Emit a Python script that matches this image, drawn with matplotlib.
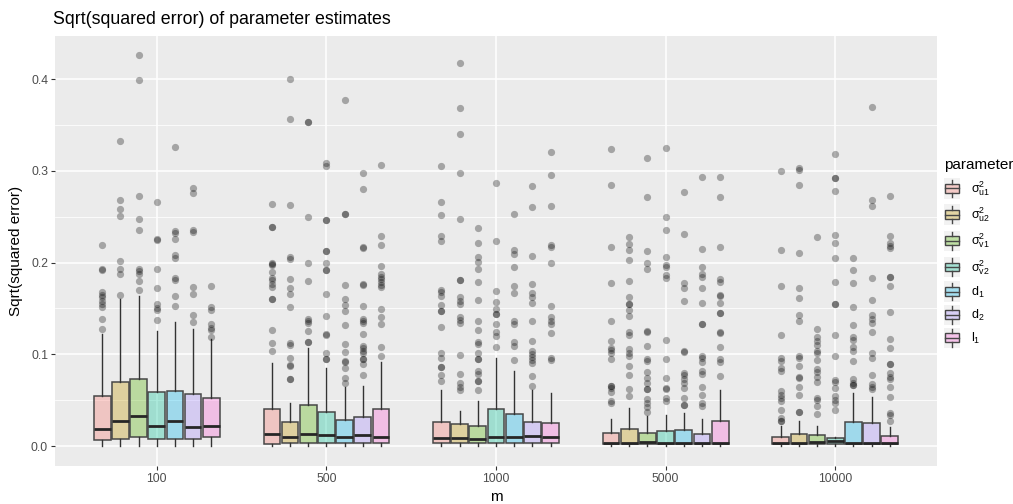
import numpy as np
import matplotlib
matplotlib.use("Agg")
import matplotlib.pyplot as plt
from matplotlib.legend_handler import HandlerBase
from matplotlib.patches import Rectangle, Patch
from matplotlib.lines import Line2D
from matplotlib.colors import to_rgba

plt.rcParams['font.family'] = ['Liberation Sans', 'DejaVu Sans']
plt.rcParams['mathtext.fontset'] = 'custom'
plt.rcParams['mathtext.rm'] = 'Liberation Sans'

m_labels = ['100', '500', '1000', '5000', '10000']
param_labels = [r'$\mathregular{σ^2_{u1}}$', r'$\mathregular{σ^2_{u2}}$',
                r'$\mathregular{σ^2_{v1}}$', r'$\mathregular{σ^2_{v2}}$',
                r'$\mathregular{d_1}$', r'$\mathregular{d_2}$', r'$\mathregular{l_1}$']
colors = ['#F8766D', '#C49A00', '#53B400', '#00C094', '#00B6EB', '#A58AFF', '#FB61D7']

# box stats per m (rows) and parameter (cols)
q1 = [[0.0065, 0.0073, 0.0094, 0.0080, 0.0076, 0.0080, 0.0098],
      [0.0025, 0.0030, 0.0030, 0.0030, 0.0030, 0.0036, 0.0030],
      [0.0030, 0.0030, 0.0030, 0.0030, 0.0030, 0.0030, 0.0030],
      [0.0020, 0.0020, 0.0020, 0.0020, 0.0020, 0.0020, 0.0020],
      [0.0020, 0.0020, 0.0020, 0.0025, 0.0020, 0.0020, 0.0020]]
med = [[0.0190, 0.0276, 0.0330, 0.0214, 0.0270, 0.0203, 0.0218],
       [0.0127, 0.0098, 0.0127, 0.0124, 0.0102, 0.0116, 0.0098],
       [0.0084, 0.0087, 0.0080, 0.0094, 0.0094, 0.0105, 0.0102],
       [0.0036, 0.0030, 0.0040, 0.0033, 0.0033, 0.0036, 0.0033],
       [0.0030, 0.0036, 0.0044, 0.0054, 0.0030, 0.0033, 0.0036]]
q3 = [[0.0545, 0.0694, 0.0727, 0.0585, 0.0600, 0.0570, 0.0527],
      [0.0403, 0.0258, 0.0450, 0.0374, 0.0283, 0.0312, 0.0400],
      [0.0260, 0.0243, 0.0218, 0.0403, 0.0345, 0.0265, 0.0247],
      [0.0145, 0.0189, 0.0145, 0.0160, 0.0171, 0.0127, 0.0272],
      [0.0098, 0.0130, 0.0116, 0.0084, 0.0258, 0.0247, 0.0113]]
whis_lo = [[0.0005] * 7, [0.0003] * 7, [0.0003] * 7, [0.0002] * 7, [0.0002] * 7]
whis_hi = [[0.122, 0.160, 0.163, 0.125, 0.1355, 0.128, 0.117],
           [0.090, 0.047, 0.1064, 0.0846, 0.0647, 0.0654, 0.0919],
           [0.061, 0.038, 0.0494, 0.0955, 0.0817, 0.061, 0.058],
           [0.0294, 0.041, 0.0327, 0.0338, 0.0356, 0.029, 0.061],
           [0.0218, 0.0276, 0.0218, 0.010, 0.0574, 0.0538, 0.021]]

outliers = [
    [  # m = 100
        [0.219, 0.193, 0.192, 0.168, 0.165, 0.162, 0.158, 0.155, 0.152, 0.138, 0.1275],
        [0.332, 0.268, 0.258, 0.251, 0.2016, 0.1925, 0.1875, 0.1646],
        [0.4265, 0.399, 0.273, 0.248, 0.235, 0.193, 0.191, 0.187, 0.180, 0.170],
        [0.266, 0.2256, 0.2245, 0.193, 0.172, 0.155, 0.150, 0.148, 0.137],
        [0.3255, 0.234, 0.232, 0.2256, 0.208, 0.2045, 0.1827, 0.181, 0.164, 0.1526],
        [0.281, 0.276, 0.235, 0.233, 0.173, 0.166, 0.143, 0.135],
        [0.174, 0.152, 0.148, 0.133, 0.129, 0.126, 0.119],
    ],
    [  # m = 500
        [0.2637, 0.2386, 0.2386, 0.200, 0.198, 0.197, 0.1896, 0.1827, 0.181, 0.1765, 0.173,
         0.1605, 0.160, 0.126, 0.1126, 0.1035],
        [0.3996, 0.3567, 0.263, 0.2063, 0.2034, 0.1816, 0.1718, 0.1653, 0.151, 0.112, 0.110,
         0.0955, 0.0886, 0.0872, 0.073, 0.073],
        [0.3527, 0.3527, 0.250, 0.199, 0.180, 0.1387, 0.1366, 0.1337, 0.125, 0.1137, 0.113],
        [0.309, 0.305, 0.246, 0.246, 0.2129, 0.2129, 0.200, 0.1918, 0.1918, 0.1653, 0.142,
         0.122, 0.1213, 0.1017, 0.095, 0.095],
        [0.377, 0.2532, 0.2525, 0.1754, 0.1605, 0.1533, 0.147, 0.1319, 0.111, 0.1028, 0.0926,
         0.0915, 0.085, 0.0745, 0.069],
        [0.2975, 0.2804, 0.2165, 0.2154, 0.177, 0.1754, 0.1526, 0.139, 0.136, 0.1337, 0.122,
         0.109, 0.1064, 0.104, 0.1017, 0.0944, 0.0944, 0.089, 0.0774],
        [0.306, 0.229, 0.2187, 0.1965, 0.187, 0.1845, 0.1816, 0.179, 0.176, 0.173, 0.149,
         0.141, 0.133, 0.108, 0.098],
    ],
    [  # m = 1000
        [0.305, 0.266, 0.2517, 0.229, 0.223, 0.170, 0.1678, 0.1638, 0.1537, 0.1475, 0.1475,
         0.1297, 0.1017, 0.0955, 0.0864, 0.0864, 0.0774, 0.0708],
        [0.418, 0.3687, 0.3396, 0.2979, 0.2474, 0.1809, 0.1809, 0.1627, 0.1584, 0.1547, 0.141,
         0.1373, 0.1337, 0.0988, 0.079, 0.0683, 0.064, 0.061],
        [0.2376, 0.2216, 0.2063, 0.2005, 0.1925, 0.1784, 0.1595, 0.1366, 0.1264, 0.113, 0.111,
         0.101, 0.0944, 0.0944, 0.082, 0.079, 0.0712, 0.0712, 0.061],
        [0.287, 0.2234, 0.169, 0.157, 0.149, 0.1438, 0.1438, 0.133, 0.1246, 0.120, 0.108],
        [0.2528, 0.2136, 0.2089, 0.1947, 0.1744, 0.1664, 0.1366, 0.133, 0.1137, 0.109, 0.0937],
        [0.283, 0.261, 0.207, 0.1765, 0.1667, 0.1627, 0.1562, 0.1366, 0.1148, 0.1035, 0.1003,
         0.0973, 0.0937, 0.090, 0.0766, 0.0657],
        [0.320, 0.295, 0.262, 0.219, 0.217, 0.200, 0.1526, 0.141, 0.1366, 0.133, 0.1228,
         0.0955, 0.0937],
    ],
    [  # m = 5000
        [0.3237, 0.2848, 0.2172, 0.1773, 0.1362, 0.1144, 0.107, 0.1046, 0.1017, 0.0944, 0.0654,
         0.0654, 0.0628, 0.0592, 0.049, 0.0465],
        [0.228, 0.2198, 0.2136, 0.203, 0.180, 0.162, 0.1547, 0.1547, 0.148, 0.1417, 0.1242,
         0.121, 0.1053, 0.1017, 0.0984, 0.0872, 0.0774, 0.0617, 0.0548],
        [0.314, 0.272, 0.2129, 0.1998, 0.1929, 0.1253, 0.1239, 0.1093, 0.0944, 0.093, 0.081,
         0.0745, 0.069, 0.0617, 0.0617, 0.0508, 0.0472, 0.0429, 0.0374],
        [0.325, 0.2495, 0.236, 0.2056, 0.1976, 0.1954, 0.1863, 0.1827, 0.1155, 0.0948, 0.0745,
         0.0636, 0.0621, 0.0527, 0.0494],
        [0.2768, 0.2314, 0.1773, 0.1718, 0.1584, 0.1039, 0.1024, 0.0792, 0.0774, 0.0726, 0.0683,
         0.0628, 0.052, 0.0447, 0.0447],
        [0.2928, 0.2147, 0.1954, 0.1874, 0.1845, 0.1718, 0.1555, 0.133, 0.133, 0.098, 0.0955,
         0.0912, 0.082, 0.0785, 0.0647, 0.0556, 0.0465, 0.0436],
        [0.2928, 0.2717, 0.2165, 0.1816, 0.179, 0.1642, 0.1634, 0.1555, 0.1453, 0.1453, 0.1246,
         0.1228, 0.1075, 0.0944, 0.0919, 0.0763],
    ],
    [  # m = 10000
        [0.2997, 0.2136, 0.1744, 0.1206, 0.0955, 0.0926, 0.0846, 0.082, 0.060, 0.0556, 0.052,
         0.049, 0.0392, 0.0301, 0.0276, 0.0276],
        [0.3026, 0.3008, 0.2844, 0.2107, 0.1718, 0.161, 0.1428, 0.1362, 0.098, 0.0955, 0.0875,
         0.0748, 0.0737, 0.0639, 0.0556, 0.0367, 0.0367],
        [0.2274, 0.1275, 0.1184, 0.1148, 0.1101, 0.1035, 0.1017, 0.0937, 0.0839, 0.081, 0.0748,
         0.0694, 0.052, 0.0501, 0.0436, 0.0349],
        [0.3178, 0.2924, 0.2924, 0.2782, 0.230, 0.2209, 0.2052, 0.1791, 0.1547, 0.1547, 0.1206,
         0.098, 0.0719, 0.0701, 0.0628, 0.0545, 0.0501, 0.0472, 0.0392],
        [0.2045, 0.1918, 0.1773, 0.151, 0.1319, 0.1191, 0.1155, 0.1075, 0.1039, 0.0926, 0.073,
         0.0683, 0.0665, 0.0665],
        [0.3698, 0.268, 0.2615, 0.1834, 0.1591, 0.1428, 0.138, 0.1337, 0.1239, 0.1017, 0.0955,
         0.0774, 0.0676, 0.0639, 0.0617],
        [0.2728, 0.2292, 0.2216, 0.218, 0.2154, 0.1838, 0.1838, 0.1744, 0.1457, 0.1162, 0.1071,
         0.0894, 0.0894, 0.0792, 0.0756, 0.073, 0.0647, 0.0538, 0.0356, 0.0338, 0.0276],
    ],
]

alpha_fill = 0.32
edge_col = '#474747'
dodge = 0.75 / 7


class BoxKeyHandler(HandlerBase):
    def create_artists(self, legend, orig_handle, xdescent, ydescent, width, height,
                       fontsize, trans):
        x0, y0 = -xdescent, -ydescent
        bg = Rectangle((x0, y0 - 2), width, height + 4, facecolor='#F2F2F2',
                       edgecolor='none', transform=trans)
        bx = Rectangle((x0 + width * 0.08, y0 + height * 0.2), width * 0.84, height * 0.6,
                       facecolor=orig_handle.get_facecolor(), edgecolor=edge_col,
                       linewidth=1.0, transform=trans)
        cx = x0 + width / 2
        cy = y0 + height / 2
        md = Line2D([x0 + width * 0.08, x0 + width * 0.92], [cy, cy], color=edge_col,
                    linewidth=1.0, transform=trans)
        w1 = Line2D([cx, cx], [y0 - 1, y0 + height * 0.2], color=edge_col, linewidth=1.0,
                    transform=trans)
        w2 = Line2D([cx, cx], [y0 + height * 0.8, y0 + height + 1], color=edge_col,
                    linewidth=1.0, transform=trans)
        return [bg, bx, md, w1, w2]


fig = plt.figure(figsize=(10.13, 5.04), dpi=100)
ax = fig.add_axes([0.0543, 0.0754, 0.8707, 0.8532])
ax.set_facecolor('#EBEBEB')

for i in range(len(m_labels)):
    stats = []
    for j in range(7):
        stats.append(dict(med=med[i][j], q1=q1[i][j], q3=q3[i][j],
                          whislo=whis_lo[i][j], whishi=whis_hi[i][j],
                          fliers=outliers[i][j]))
    pos = [i + 1 + (j - 3) * dodge for j in range(7)]
    bp = ax.bxp(stats, positions=pos, widths=dodge * 0.92, patch_artist=True,
                showcaps=False, manage_ticks=False,
                boxprops=dict(edgecolor=edge_col, linewidth=1.1),
                whiskerprops=dict(color='#333333', linewidth=1.0),
                medianprops=dict(color='#262626', linewidth=2.0),
                flierprops=dict(marker='o', markerfacecolor=(0, 0, 0, 0.3),
                                markeredgewidth=0, markersize=5.2))
    for patch, c in zip(bp['boxes'], colors):
        patch.set_facecolor(to_rgba(c, alpha_fill))

ax.set_xlim(0.4, 5.6)
ax.set_ylim(-0.0218, 0.447)
ax.set_xticks(range(1, 6))
ax.set_xticklabels(m_labels)
ax.set_yticks([0.0, 0.1, 0.2, 0.3, 0.4])
ax.set_yticklabels(['0.0', '0.1', '0.2', '0.3', '0.4'])
ax.set_yticks([0.05, 0.15, 0.25, 0.35], minor=True)
ax.grid(True, which='major', color='white', linewidth=1.1)
ax.grid(True, which='minor', axis='y', color='white', linewidth=0.55)
ax.set_axisbelow(True)
for s in ax.spines.values():
    s.set_visible(False)
ax.tick_params(which='major', length=3, width=0.8, color='#333333', labelcolor='#4D4D4D',
               labelsize=8.8, pad=2)
ax.tick_params(which='minor', length=0)

ax.set_xlabel('m', fontsize=11, labelpad=4)
ax.set_ylabel('Sqrt(squared error)', fontsize=11, labelpad=6)
fig.text(0.0523, 0.952, 'Sqrt(squared error) of parameter estimates', fontsize=12.8,
         ha='left', va='baseline')

handles = [Patch(facecolor=to_rgba(c, alpha_fill)) for c in colors]
leg = fig.legend(handles, param_labels, title='parameter', loc='center left',
                 bbox_to_anchor=(0.929, 0.5), frameon=False, fontsize=9,
                 title_fontsize=11, handler_map={Patch: BoxKeyHandler()},
                 handlelength=1.3, handleheight=1.45, labelspacing=0.6,
                 handletextpad=0.9, borderaxespad=0, borderpad=0.2)
leg._legend_box.align = 'left'

fig.savefig('out.png', dpi=100)
